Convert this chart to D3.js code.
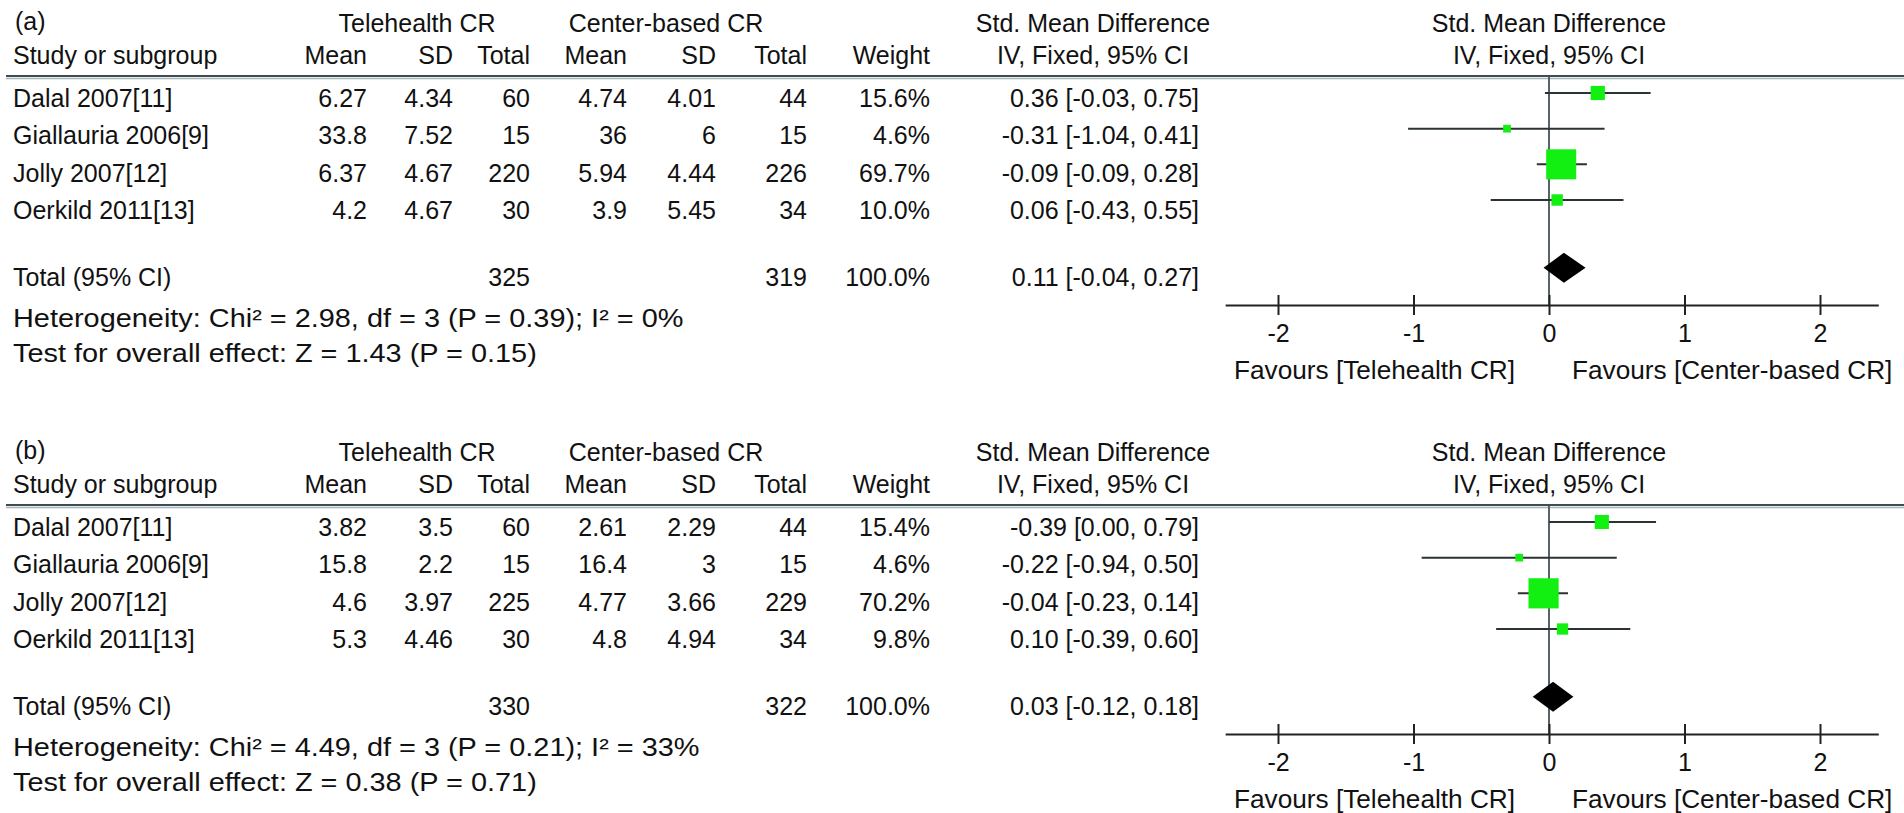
<!DOCTYPE html>
<html>
<head>
<meta charset="utf-8">
<script src="https://cdn.jsdelivr.net/npm/d3@7"></script>
<style>
  body { margin: 0; background: #fff; }
  svg text { font-family: "Liberation Sans", Arial, Helvetica, sans-serif; font-size: 25px; fill: #111; }
</style>
</head>
<body>
<div id="chart"></div>
<script>
// Forest plots: telehealth vs center-based cardiac rehabilitation

const studies = ['Dalal 2007[11]', 'Giallauria 2006[9]', 'Jolly 2007[12]', 'Oerkild 2011[13]'];
const tickValues = [-2, -1, 0, 1, 2];

// panel (a)
const teleMeanA = ['6.27', '33.8', '6.37', '4.2'];
const teleSdA = ['4.34', '7.52', '4.67', '4.67'];
const teleNA = [60, 15, 220, 30];
const cbMeanA = ['4.74', '36', '5.94', '3.9'];
const cbSdA = ['4.01', '6', '4.44', '5.45'];
const cbNA = [44, 15, 226, 34];
const weightA = [15.6, 4.6, 69.7, 10.0];
const smdLabelA = ['0.36', '-0.31', '-0.09', '0.06'];
const smdA = [0.36, -0.31, 0.09, 0.06];
const lowA = [-0.03, -1.04, -0.09, -0.43];
const highA = [0.75, 0.41, 0.28, 0.55];
const totalA = { tele: 325, cb: 319, est: 0.11, low: -0.04, high: 0.27 };
const hetA = 'Heterogeneity: Chi² = 2.98, df = 3 (P = 0.39); I² = 0%';
const testA = 'Test for overall effect: Z = 1.43 (P = 0.15)';

// panel (b)
const teleMeanB = ['3.82', '15.8', '4.6', '5.3'];
const teleSdB = ['3.5', '2.2', '3.97', '4.46'];
const teleNB = [60, 15, 225, 30];
const cbMeanB = ['2.61', '16.4', '4.77', '4.8'];
const cbSdB = ['2.29', '3', '3.66', '4.94'];
const cbNB = [44, 15, 229, 34];
const weightB = [15.4, 4.6, 70.2, 9.8];
const smdLabelB = ['-0.39', '-0.22', '-0.04', '0.10'];
const smdB = [0.39, -0.22, -0.04, 0.10];
const lowB = [0.00, -0.94, -0.23, -0.39];
const highB = [0.79, 0.50, 0.14, 0.60];
const totalB = { tele: 330, cb: 322, est: 0.03, low: -0.12, high: 0.18 };
const hetB = 'Heterogeneity: Chi² = 4.49, df = 3 (P = 0.21); I² = 33%';
const testB = 'Test for overall effect: Z = 0.38 (P = 0.71)';

const panels = [
  { tag: '(a)', top: 0, teleMean: teleMeanA, teleSd: teleSdA, teleN: teleNA, cbMean: cbMeanA, cbSd: cbSdA, cbN: cbNA,
    weight: weightA, smdLabel: smdLabelA, smd: smdA, low: lowA, high: highA, total: totalA, het: hetA, test: testA },
  { tag: '(b)', top: 429, teleMean: teleMeanB, teleSd: teleSdB, teleN: teleNB, cbMean: cbMeanB, cbSd: cbSdB, cbN: cbNB,
    weight: weightB, smdLabel: smdLabelB, smd: smdB, low: lowB, high: highB, total: totalB, het: hetB, test: testB }
];

const width = 1904, height = 813;
const green = '#12f012';

const svg = d3.select('#chart').append('svg')
  .attr('width', width)
  .attr('height', height);

// effect scale (shared)
const x = d3.scaleLinear().domain([-2, 2]).range([1278, 1820]);
const xAxisScale = x.copy().domain([-2.39, 2.43]).range([x(-2.39), x(2.43)]);
const boxSize = d3.scaleSqrt().domain([0, 100]).range([0, 36]);
// row positions: table text vs plot marks
const textY = d3.scaleLinear().domain([0, 3]).range([98, 210]);
const plotY = d3.scaleLinear().domain([0, 3]).range([93, 200]);

const col = { study: 13, tMean: 367, tSd: 453, tN: 530, cMean: 627, cSd: 716, cN: 807, weight: 930, smdEnd: 1199, smdMid: 1093 };
const fmt2 = d3.format('.2f');
const fmtCI = v => fmt2(v).replace('−', '-');

// the footnote / favours text in the source is drawn a bit wider than the table text
function stretch(sel, k) {
  const w = sel.node().getComputedTextLength();
  sel.attr('textLength', w * k).attr('lengthAdjust', 'spacingAndGlyphs');
  return sel;
}

function drawPanel(p) {
  const g = svg.append('g').attr('transform', `translate(0,${p.top})`);
  // cy = visual centre of capitals
  const txt = (xx, cy, s, anchor = 'start') =>
    g.append('text').attr('x', xx).attr('y', cy + 9).attr('text-anchor', anchor).text(s);

  txt(15, 21, p.tag);
  txt(417, 23, 'Telehealth CR', 'middle');
  txt(666, 23, 'Center-based CR', 'middle');
  txt(col.smdMid, 23, 'Std. Mean Difference', 'middle');
  txt(x(0), 23, 'Std. Mean Difference', 'middle');

  txt(col.study, 55, 'Study or subgroup');
  txt(col.tMean, 55, 'Mean', 'end');
  txt(col.tSd, 55, 'SD', 'end');
  txt(col.tN, 55, 'Total', 'end');
  txt(col.cMean, 55, 'Mean', 'end');
  txt(col.cSd, 55, 'SD', 'end');
  txt(col.cN, 55, 'Total', 'end');
  txt(col.weight, 55, 'Weight', 'end');
  txt(col.smdMid, 55, 'IV, Fixed, 95% CI', 'middle');
  txt(x(0), 55, 'IV, Fixed, 95% CI', 'middle');

  // header rule
  g.append('line').attr('x1', 6).attr('x2', width).attr('y1', 76).attr('y2', 76)
    .attr('stroke', '#3f4d53').attr('stroke-width', 2);
  g.append('line').attr('x1', 6).attr('x2', width).attr('y1', 78.5).attr('y2', 78.5)
    .attr('stroke', '#a9b5ba').attr('stroke-width', 1.5);

  // table rows
  studies.forEach((s, i) => {
    const cy = textY(i);
    txt(col.study, cy, s);
    txt(col.tMean, cy, p.teleMean[i], 'end');
    txt(col.tSd, cy, p.teleSd[i], 'end');
    txt(col.tN, cy, p.teleN[i], 'end');
    txt(col.cMean, cy, p.cbMean[i], 'end');
    txt(col.cSd, cy, p.cbSd[i], 'end');
    txt(col.cN, cy, p.cbN[i], 'end');
    txt(col.weight, cy, p.weight[i].toFixed(1) + '%', 'end');
    txt(col.smdEnd, cy, `${p.smdLabel[i]} [${fmtCI(p.low[i])}, ${fmtCI(p.high[i])}]`, 'end');
  });

  const totalCy = textY(4.8);
  txt(col.study, totalCy, 'Total (95% CI)');
  txt(col.tN, totalCy, p.total.tele, 'end');
  txt(col.cN, totalCy, p.total.cb, 'end');
  txt(col.weight, totalCy, '100.0%', 'end');
  txt(col.smdEnd, totalCy, `${fmtCI(p.total.est)} [${fmtCI(p.total.low)}, ${fmtCI(p.total.high)}]`, 'end');

  stretch(txt(col.study, 318, p.het), 1.155);
  stretch(txt(col.study, 353, p.test), 1.155);

  // plot
  const axisY = 305;
  g.append('line').attr('x1', x(0)).attr('x2', x(0)).attr('y1', 77).attr('y2', axisY)
    .attr('stroke', '#56646a').attr('stroke-width', 2);

  const axis = g.append('g').attr('transform', `translate(0,${axisY})`)
    .call(d3.axisBottom(xAxisScale).tickValues(tickValues).tickSizeInner(10).tickSizeOuter(0)
      .tickPadding(9).tickFormat(d => String(d)));
  axis.attr('font-size', null).attr('font-family', null);
  axis.select('.domain').attr('stroke', '#222').attr('stroke-width', 2);
  axis.selectAll('.tick line').attr('y1', -10).attr('y2', 10).attr('stroke', '#222').attr('stroke-width', 2);
  axis.selectAll('.tick text').attr('fill', '#111');

  studies.forEach((s, i) => {
    g.append('line')
      .attr('x1', x(p.low[i])).attr('x2', x(p.high[i]))
      .attr('y1', plotY(i)).attr('y2', plotY(i))
      .attr('stroke', '#2b3336').attr('stroke-width', 2);
  });
  studies.forEach((s, i) => {
    const sz = boxSize(p.weight[i]);
    g.append('rect')
      .attr('x', x(p.smd[i]) - sz / 2).attr('y', plotY(i) - sz / 2)
      .attr('width', sz).attr('height', sz)
      .attr('fill', green);
  });

  const dy = plotY(4.9);
  g.append('path')
    .attr('d', d3.line()([[x(p.total.low), dy], [x(p.total.est), dy - 15], [x(p.total.high), dy], [x(p.total.est), dy + 15]]) + 'Z')
    .attr('fill', '#000');

  stretch(txt(1234, axisY + 65, 'Favours [Telehealth CR]'), 1.048);
  stretch(txt(1572, axisY + 65, 'Favours [Center-based CR]'), 1.048);
}

panels.forEach(drawPanel);
</script>
</body>
</html>
